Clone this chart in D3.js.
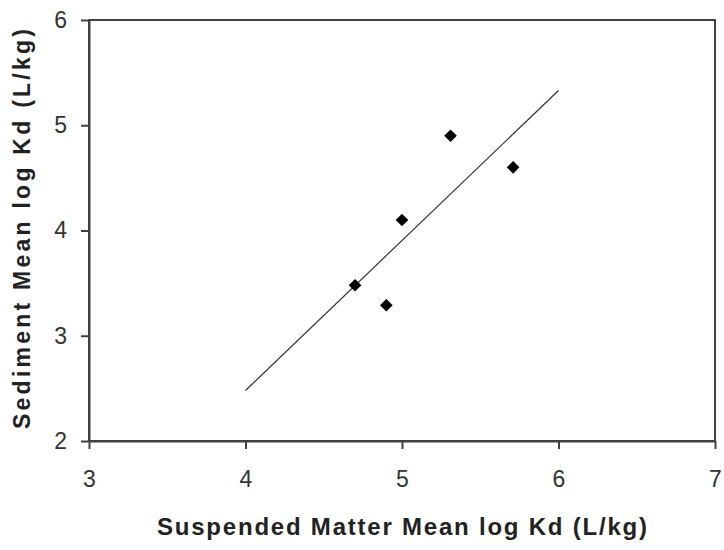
<!DOCTYPE html>
<html>
<head>
<meta charset="utf-8">
<script src="https://cdn.jsdelivr.net/npm/d3@7"></script>
<style>
  body { margin: 0; background: #fff; }
  text { font-family: Arial, "Liberation Sans", sans-serif; }
</style>
</head>
<body>
<div id="chart"></div>
<script>
// values
var suspendedKd = [4.7, 4.9, 5.0, 5.31, 5.71];
var sedimentKd = [3.48, 3.29, 4.1, 4.9, 4.6];
var trendX = [4, 6];
var trendY = [2.48, 5.33];
var xTicks = [3, 4, 5, 6, 7];
var yTicks = [2, 3, 4, 5, 6];

var W = 724, H = 550;
var plotL = 89, plotR = 715, plotT = 20, plotB = 441;

var svg = d3.select("#chart").append("svg")
  .attr("width", W).attr("height", H)

var x = d3.scaleLinear().domain([3, 7]).range([plotL, plotR]);
var y = d3.scaleLinear().domain([2, 6]).range([plotB, plotT]);

// box around plot
svg.append("rect")
  .attr("x", plotL).attr("y", plotT)
  .attr("width", plotR - plotL).attr("height", plotB - plotT)
  .attr("fill", "none").attr("stroke", "#404040").attr("stroke-width", 2)

var xAxis = svg.append("g")
  .attr("transform", "translate(0," + plotB + ")")
  .call(d3.axisBottom(x).tickValues(xTicks).tickSize(8).tickSizeOuter(0).tickPadding(22).tickFormat(d3.format("d")))
xAxis.select(".domain").attr("stroke", "#404040").attr("stroke-width", 2)
xAxis.selectAll(".tick line").attr("stroke", "#404040").attr("stroke-width", 2)
xAxis.selectAll("text").attr("font-size", 23).attr("fill", "#333")

var yAxis = svg.append("g")
  .attr("transform", "translate(" + plotL + ",0)")
  .call(d3.axisLeft(y).tickValues(yTicks).tickSize(8).tickSizeOuter(0).tickPadding(14).tickFormat(d3.format("d")))
yAxis.select(".domain").attr("stroke", "#404040").attr("stroke-width", 2)
yAxis.selectAll(".tick line").attr("stroke", "#404040").attr("stroke-width", 2)
yAxis.selectAll("text").attr("font-size", 23).attr("fill", "#333")

// trend line
var line = d3.line()
  .x(function(d){ return x(d[0]) })
  .y(function(d){ return y(d[1]) })
svg.append("path")
  .attr("d", line(d3.zip(trendX, trendY)))
  .attr("fill", "none").attr("stroke", "#333").attr("stroke-width", 1.2)

// data markers
var pts = d3.zip(suspendedKd, sedimentKd);
svg.selectAll(".pt")
  .data(pts)
  .enter()
  .append("path")
  .attr("class", "pt")
  .attr("d", d3.symbol().type(d3.symbolSquare).size(80))
  .attr("transform", function(d){ return "translate(" + x(d[0]) + "," + y(d[1]) + ") rotate(45)" })
  .attr("fill", "#000")

// axis titles
svg.append("text")
  .attr("x", 402).attr("y", 535)
  .attr("text-anchor", "middle")
  .attr("font-size", 24).attr("font-weight", "bold").attr("fill", "#222")
  .attr("textLength", 490).attr("lengthAdjust", "spacing")
  .text("Suspended Matter Mean log Kd (L/kg)")

svg.append("text")
  .attr("transform", "translate(30,229) rotate(-90)")
  .attr("text-anchor", "middle")
  .attr("font-size", 23).attr("font-weight", "bold").attr("fill", "#222")
  .attr("textLength", 400).attr("lengthAdjust", "spacing")
  .text("Sediment Mean log Kd (L/kg)")
</script>
</body>
</html>
